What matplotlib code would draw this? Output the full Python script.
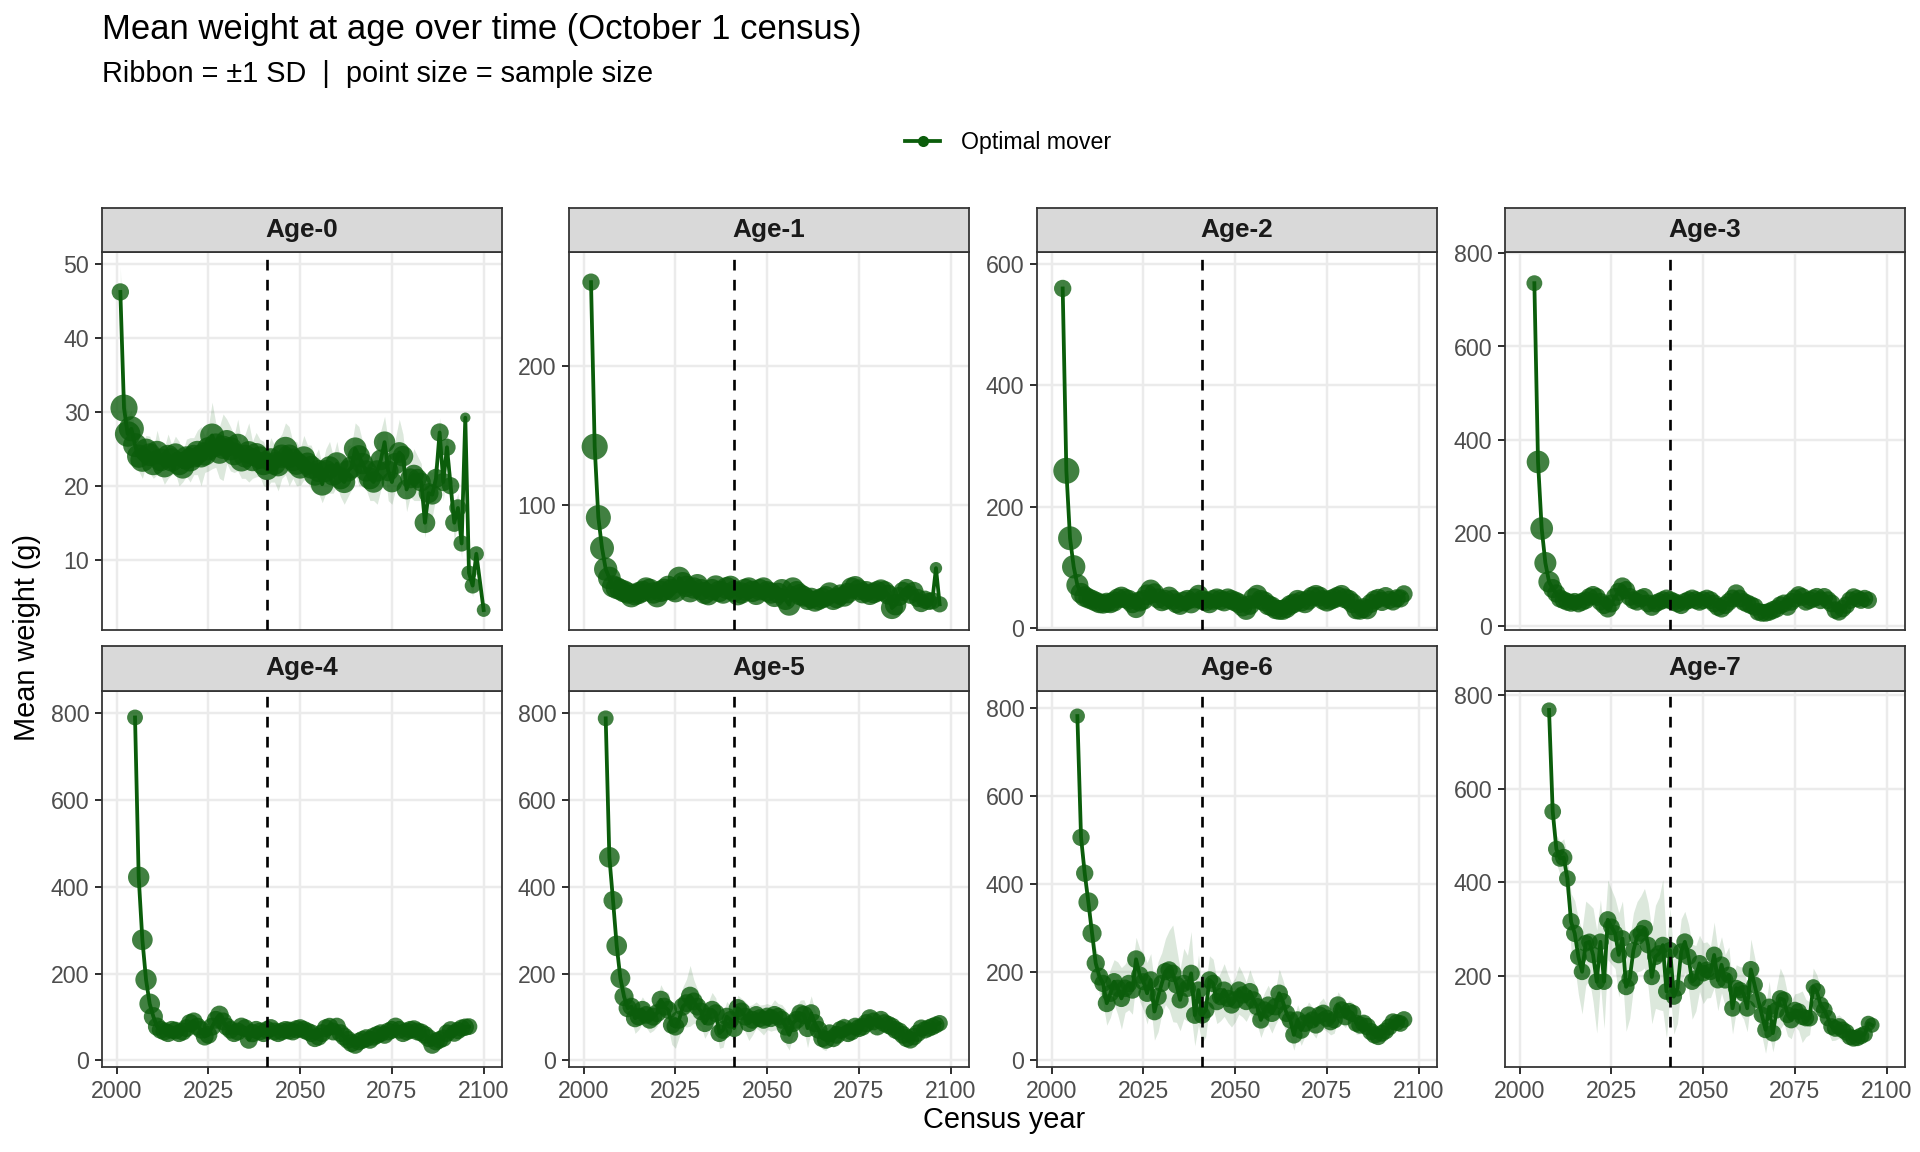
import matplotlib.pyplot as plt
from matplotlib.lines import Line2D
import numpy as np

plt.rcParams['font.family'] = ['Liberation Sans', 'DejaVu Sans']

# ---- data ----
ages = ["Age-0", "Age-1", "Age-2", "Age-3", "Age-4", "Age-5", "Age-6", "Age-7"]

yr0 = list(range(2001, 2099)) + [2100]
w0 = [46.2, 30.5, 27.0, 27.7, 25.5, 24.0, 23.5, 24.8, 24.2, 23.0,
      24.5, 23.5, 22.7, 24.0, 23.5, 24.2, 23.0, 22.5, 23.8, 23.5,
      24.0, 24.5, 24.0, 24.3, 25.0, 26.8, 25.5, 24.5, 25.2, 26.0,
      25.0, 24.3, 25.5, 23.5, 24.0, 24.5, 23.5, 24.2, 23.8, 23.0,
      22.3, 23.5, 23.0, 22.8, 24.0, 25.0, 24.0, 23.5, 23.0, 22.5,
      23.8, 23.0, 22.5, 21.5, 22.0, 20.2, 22.0, 22.5, 21.5, 23.0,
      21.0, 20.5, 22.0, 22.5, 25.0, 24.0, 23.0, 22.0, 21.0, 20.5,
      22.0, 23.5, 25.9, 22.0, 20.5, 23.0, 24.5, 24.0, 19.5, 21.0,
      21.5, 21.0, 20.5, 15.0, 19.0, 18.8, 21.0, 27.2, 20.5, 25.2,
      20.0, 15.0, 17.0, 12.2, 29.2, 8.2, 6.5, 10.8, 3.2]
sd0 = [3.5, 3.0, 2.5, 2.5, 2.0, 2.0, 2.5, 2.0, 2.5, 2.0,
       3.0, 2.0, 2.5, 3.0, 2.0, 2.5, 3.0, 2.0, 2.5, 3.0,
       2.5, 3.0, 4.0, 2.5, 3.0, 4.5, 3.0, 3.5, 4.5, 3.0,
       3.0, 2.5, 3.5, 2.5, 3.0, 4.0, 2.5, 3.0, 2.5, 3.0,
       2.5, 3.0, 2.5, 3.5, 3.0, 3.5, 4.0, 2.5, 3.0, 2.5,
       3.0, 2.5, 3.0, 2.5, 3.0, 2.5, 3.0, 3.5, 2.5, 3.0,
       2.5, 3.0, 3.5, 3.0, 3.5, 4.0, 3.0, 2.5, 3.0, 2.5,
       4.5, 4.0, 3.5, 4.0, 3.0, 3.5, 4.5, 3.0, 3.0, 2.5,
       3.5, 3.0, 2.5, 2.0, 3.0, 3.0, 2.5, 2.0, 2.5, 2.5,
       2.0, 2.5, 2.0, 2.0, 0.5, 1.0, 1.5, 1.0, 0.5]
n0 = [250, 1000, 850, 800, 700, 650, 700, 650, 600, 650,
      650, 600, 650, 600, 650, 600, 650, 600, 600, 650,
      600, 650, 600, 650, 650, 700, 650, 600, 650, 600,
      650, 600, 600, 650, 600, 600, 600, 650, 600, 650,
      600, 650, 600, 600, 650, 700, 650, 600, 600, 600,
      600, 550, 600, 550, 550, 600, 550, 550, 550, 600,
      550, 550, 500, 550, 600, 550, 500, 500, 550, 500,
      500, 450, 500, 450, 450, 500, 450, 450, 400, 400,
      400, 350, 350, 450, 400, 400, 350, 300, 300, 250,
      250, 300, 250, 200, 20, 150, 180, 150, 100]

yr1 = list(range(2002, 2098))
w1 = [260.3, 141.9, 90.9, 68.9, 53.8, 47.4, 41.4, 40.2, 39.0, 37.8,
      36.6, 34.2, 35.4, 36.6, 37.8, 40.2, 39.0, 36.6, 34.2, 37.8,
      39.0, 41.4, 39.0, 37.8, 47.4, 43.8, 41.4, 37.8, 40.2, 42.6,
      39.0, 36.6, 35.4, 39.0, 41.4, 37.8, 36.6, 40.2, 41.4, 37.8,
      35.4, 36.6, 39.0, 40.2, 37.8, 35.4, 39.0, 40.2, 37.8, 36.6,
      34.2, 36.6, 39.0, 31.8, 28.2, 40.2, 37.8, 35.4, 34.2, 31.8,
      33.0, 30.6, 31.8, 33.0, 34.2, 36.6, 31.8, 33.0, 35.4, 34.2,
      36.6, 40.2, 41.4, 39.0, 36.6, 37.8, 35.4, 36.6, 37.8, 39.0,
      37.8, 35.4, 25.8, 28.2, 34.2, 37.8, 40.2, 35.4, 37.8, 33.0,
      29.4, 31.8, 30.6, 31.0, 54.5, 28.5]
sd1 = [9.5, 6.0, 5.0, 4.5, 4.0, 3.5, 3.5, 3.0, 3.5, 3.0,
       3.0, 3.5, 3.0, 3.5, 3.0, 3.5, 3.0, 3.5, 3.0, 3.5,
       3.5, 4.0, 3.5, 3.0, 4.5, 4.0, 3.5, 3.0, 3.5, 4.0,
       3.5, 3.0, 3.0, 3.5, 4.0, 3.5, 3.0, 3.5, 4.0, 3.5,
       3.0, 3.0, 3.5, 3.5, 3.0, 3.0, 3.5, 3.5, 3.0, 3.0,
       3.0, 3.0, 3.5, 3.0, 3.5, 3.5, 3.0, 3.0, 3.0, 3.0,
       3.0, 3.0, 3.0, 3.0, 3.0, 3.5, 3.0, 3.0, 3.0, 3.0,
       3.0, 3.5, 3.5, 3.5, 3.0, 3.0, 3.0, 3.0, 3.0, 3.5,
       3.0, 3.0, 3.5, 3.5, 3.0, 3.5, 3.5, 3.0, 3.5, 3.0,
       3.0, 3.0, 3.0, 3.0, 1.0, 3.0]
n1 = [250, 900, 800, 700, 650, 600, 550, 550, 500, 550,
      500, 550, 500, 550, 500, 500, 550, 500, 550, 500,
      550, 500, 500, 550, 600, 550, 500, 550, 500, 500,
      500, 550, 500, 500, 550, 500, 500, 550, 500, 500,
      500, 500, 550, 500, 500, 450, 500, 500, 450, 500,
      500, 450, 500, 450, 550, 500, 450, 500, 450, 450,
      450, 450, 450, 450, 450, 500, 450, 450, 450, 450,
      450, 500, 450, 450, 450, 450, 450, 450, 450, 450,
      450, 400, 550, 500, 350, 350, 300, 300, 350, 300,
      300, 300, 250, 250, 60, 200]

yr2 = list(range(2003, 2097))
w2 = [559, 259, 148, 101, 71, 57.5, 52, 49, 46.6, 43.8,
      41, 40, 42, 41, 44, 49, 52, 49, 46.6, 41,
      33, 44, 46.6, 55, 63, 57.5, 49, 44, 46.6, 52,
      46.6, 41, 38, 44, 46.6, 41, 49, 55, 46.6, 44,
      41, 46.6, 49, 46.6, 44, 49, 46.6, 44, 41, 35.6,
      30, 38, 49, 55, 46.6, 44, 38, 35.6, 31, 30,
      30, 33, 38, 41, 46.6, 44, 41, 46.6, 52, 55,
      52, 46.6, 44, 46.6, 49, 52, 55, 49, 46.6, 41,
      31, 30, 33, 31, 41, 46.6, 49, 44, 52, 46.6,
      44, 49, 49, 56.4]
sd2 = [25, 12, 8, 7, 6, 5, 5, 5, 5, 5,
       5, 5, 5, 5, 5, 6, 6, 5, 5, 5,
       5, 5, 6, 7, 8, 6, 5, 5, 5, 6,
       5, 5, 5, 5, 5, 5, 5, 6, 5, 5,
       5, 5, 5, 5, 5, 5, 5, 5, 5, 5,
       5, 5, 6, 6, 5, 5, 5, 5, 5, 5,
       5, 5, 5, 5, 5, 5, 5, 5, 6, 6,
       5, 5, 5, 5, 5, 6, 6, 5, 5, 5,
       5, 5, 5, 5, 5, 5, 5, 5, 6, 5,
       5, 5, 5, 4]
n2 = [250, 900, 700, 650, 550, 450, 450, 420, 400, 400,
      400, 380, 400, 400, 420, 400, 400, 380, 400, 400,
      400, 420, 400, 450, 450, 400, 400, 380, 400, 400,
      400, 400, 380, 400, 400, 420, 400, 400, 400, 380,
      400, 400, 400, 420, 400, 400, 380, 400, 400, 400,
      400, 380, 450, 400, 400, 400, 420, 400, 380, 400,
      400, 400, 400, 380, 400, 420, 400, 400, 400, 380,
      400, 400, 420, 400, 400, 400, 380, 400, 400, 400,
      400, 380, 400, 400, 350, 350, 350, 350, 350, 300,
      300, 300, 300, 250]

yr3 = list(range(2004, 2096))
w3 = [736, 352, 209, 135, 94.5, 80, 69.5, 58.7, 55, 51.6,
      49.4, 51.6, 48, 51.6, 55, 62, 66, 62, 51.6, 44.4,
      37, 48, 62, 73, 84, 76.6, 62, 55, 51.6, 58.7,
      62, 48, 40.8, 48, 51.6, 55, 58.7, 55, 51.6, 48,
      44.4, 51.6, 55, 58.7, 55, 51.6, 55, 58.7, 55, 48,
      40.8, 37, 44.4, 51.6, 58.7, 69.5, 58.7, 51.6, 48, 44.4,
      40.8, 30, 28, 28, 30, 33.7, 37, 44.4, 48, 40.8,
      51.6, 58.7, 66, 62, 51.6, 55, 58.7, 62, 55, 62,
      55, 48, 33.7, 30, 37, 44.4, 55, 62, 58.7, 55,
      58.7, 55]
sd3 = [30, 15, 12, 10, 8, 8, 7, 7, 7, 7,
       7, 7, 7, 7, 7, 8, 8, 7, 7, 7,
       7, 7, 8, 9, 10, 9, 8, 7, 7, 7,
       8, 7, 7, 7, 7, 7, 7, 7, 7, 7,
       7, 7, 7, 7, 7, 7, 7, 7, 7, 7,
       7, 7, 7, 7, 7, 9, 8, 7, 7, 7,
       7, 6, 6, 6, 6, 6, 6, 7, 7, 7,
       7, 7, 8, 8, 7, 7, 7, 7, 7, 7,
       7, 7, 6, 6, 6, 7, 7, 7, 7, 7,
       7, 7]
n3 = [180, 600, 600, 550, 500, 350, 300, 300, 280, 280,
      280, 270, 280, 290, 280, 280, 300, 280, 270, 280,
      280, 290, 300, 300, 320, 300, 280, 280, 270, 280,
      280, 280, 290, 280, 270, 280, 280, 290, 280, 280,
      280, 270, 280, 280, 290, 280, 280, 270, 280, 280,
      290, 280, 280, 270, 280, 300, 280, 280, 290, 280,
      280, 270, 280, 280, 280, 290, 280, 270, 280, 280,
      280, 290, 280, 280, 270, 280, 280, 290, 280, 280,
      280, 280, 260, 260, 260, 260, 260, 250, 250, 250,
      250, 250]

yr4 = list(range(2005, 2097))
w4 = [790, 422, 278, 186, 130.5, 101, 78, 70.6, 66.8, 63,
      70.6, 69, 63, 66.8, 74.5, 86, 90, 78, 70.6, 55,
      59, 78, 93.7, 105, 90, 78, 70.6, 63, 66.8, 78,
      74.5, 47.6, 63, 70.6, 66.8, 63, 70.6, 74.5, 66.8, 63,
      66.8, 70.6, 69, 66.8, 72, 74.5, 70.6, 66.8, 63, 51.4,
      55, 63, 74.5, 78, 66.8, 78, 63, 55, 47.6, 40,
      36, 43.8, 47.6, 51.4, 47.6, 55, 59, 63, 59, 66.8,
      70.6, 78, 70.6, 63, 66.8, 70.6, 72, 66.8, 64.5, 59,
      51.4, 36, 43.8, 47.6, 51.4, 63, 70.6, 63, 69, 74.5,
      76.8, 78]
sd4 = [10, 15, 12, 10, 10, 9, 8, 8, 8, 8,
       8, 8, 8, 8, 9, 10, 10, 9, 8, 8,
       8, 9, 12, 16, 12, 10, 9, 8, 8, 9,
       9, 8, 8, 8, 8, 8, 8, 9, 8, 8,
       8, 8, 8, 8, 8, 8, 8, 8, 8, 8,
       8, 8, 9, 14, 10, 8, 8, 8, 8, 8,
       7, 7, 7, 7, 7, 7, 7, 7, 7, 8,
       8, 9, 8, 8, 8, 8, 8, 8, 8, 8,
       7, 7, 7, 7, 7, 8, 8, 8, 8, 8,
       8, 7]
n4 = [180, 500, 450, 500, 450, 350, 300, 280, 280, 280,
      280, 270, 280, 290, 280, 300, 280, 280, 270, 280,
      280, 290, 280, 320, 280, 280, 270, 280, 280, 290,
      280, 280, 300, 280, 270, 280, 280, 290, 280, 280,
      280, 270, 280, 280, 290, 280, 280, 270, 280, 280,
      290, 280, 280, 270, 280, 280, 280, 290, 280, 280,
      280, 270, 280, 280, 280, 290, 280, 270, 280, 280,
      280, 290, 280, 280, 270, 280, 280, 290, 280, 280,
      280, 280, 280, 260, 260, 260, 250, 250, 250, 250,
      250, 220]

yr5 = list(range(2006, 2098))
w5 = [788, 468, 368.5, 264, 189.6, 147, 120.5, 124, 97.5, 101,
      116.7, 105, 93.7, 101, 109, 139.7, 124, 116.7, 82, 78,
      93.7, 124, 132, 149, 136, 124, 113, 86, 101, 116.7,
      109, 63, 70.6, 101, 93.7, 74.5, 120.5, 113, 101, 86,
      93.7, 105, 97.5, 93.7, 101, 97.5, 105, 101, 93.7, 78,
      59, 86, 93.7, 109, 105, 74.5, 109, 86, 70.6, 51.4,
      47.6, 63, 51.4, 59, 70.6, 74.5, 63, 66.8, 78, 74.5,
      78, 86, 97.5, 90, 78, 93.7, 86, 82, 78, 70.6,
      66.8, 59, 51.4, 47.6, 55, 63, 74.5, 70.6, 74.5, 78,
      82, 86]
sd5 = [10, 15, 12, 12, 15, 20, 25, 30, 35, 30,
       30, 28, 30, 32, 30, 35, 35, 40, 45, 50,
       40, 45, 55, 70, 50, 40, 35, 35, 35, 40,
       35, 35, 40, 35, 30, 40, 30, 30, 35, 40,
       35, 30, 30, 35, 30, 30, 35, 30, 35, 40,
       35, 30, 30, 30, 35, 45, 40, 30, 30, 25,
       25, 20, 22, 20, 25, 25, 20, 20, 20, 20,
       20, 25, 22, 20, 20, 20, 20, 20, 20, 20,
       15, 15, 15, 15, 15, 15, 15, 12, 12, 12,
       10, 10]
n5 = [180, 450, 350, 450, 400, 350, 300, 280, 300, 280,
      280, 270, 280, 290, 280, 300, 280, 280, 270, 280,
      280, 290, 280, 300, 280, 280, 270, 280, 280, 290,
      280, 280, 290, 280, 270, 280, 300, 280, 280, 280,
      280, 270, 280, 280, 290, 280, 280, 270, 280, 280,
      290, 280, 280, 270, 300, 280, 280, 290, 280, 280,
      280, 270, 280, 280, 280, 290, 280, 270, 280, 280,
      280, 290, 280, 280, 270, 280, 280, 290, 280, 280,
      280, 280, 280, 260, 260, 260, 250, 250, 250, 250,
      230, 200]

yr6 = list(range(2007, 2097))
w6 = [782, 506, 424.6, 358.6, 288, 220, 189.5, 174, 129, 151.6,
      178, 163, 140, 163, 174, 159, 229, 193, 178, 151.6,
      182, 110, 144, 174, 201, 204.7, 197, 170.6, 136.5, 174,
      163, 197, 102, 159, 102, 113.7, 182, 174, 132.7, 144,
      159, 140, 125, 136.5, 159, 147.8, 132.7, 155.4, 136.5, 121,
      91, 113.7, 125, 106, 121, 151.6, 132.7, 106, 91, 57,
      91, 68, 83.4, 102, 91, 79.6, 102, 106, 94.8, 87,
      91, 125, 113.7, 98.6, 110, 106, 83.4, 79.6, 83.4, 75.8,
      64.4, 57, 53, 60.7, 66, 75, 87, 85, 83, 92]
sd6 = [10, 20, 25, 25, 30, 35, 40, 45, 50, 55,
       50, 60, 70, 55, 60, 55, 50, 60, 65, 70,
       60, 65, 80, 70, 75, 90, 110, 85, 70, 80,
       75, 95, 70, 80, 65, 60, 55, 55, 50, 55,
       60, 55, 50, 50, 55, 50, 45, 50, 45, 40,
       40, 40, 45, 45, 40, 55, 50, 45, 40, 35,
       35, 35, 30, 30, 30, 30, 30, 35, 30, 30,
       30, 30, 30, 25, 25, 25, 25, 20, 20, 20,
       20, 15, 15, 15, 15, 15, 15, 12, 12, 10]
n6 = [150, 250, 250, 400, 350, 300, 280, 250, 280, 250,
      250, 240, 250, 260, 250, 250, 280, 250, 240, 250,
      250, 260, 250, 240, 250, 250, 260, 250, 240, 250,
      250, 250, 260, 250, 240, 250, 250, 260, 250, 250,
      240, 250, 250, 260, 250, 250, 240, 250, 250, 260,
      250, 250, 240, 250, 250, 260, 250, 250, 240, 250,
      250, 260, 250, 250, 240, 250, 250, 260, 250, 250,
      240, 250, 250, 260, 250, 250, 240, 250, 250, 260,
      250, 250, 230, 230, 230, 230, 220, 220, 220, 220]

yr7 = list(range(2008, 2097))
w7 = [768, 551, 471, 451, 453, 408, 316, 291, 241, 209,
      270, 273, 245, 188, 273, 188, 320, 305, 291, 245,
      280, 177, 195, 255, 284, 291, 302, 266, 198, 241,
      248, 266, 167, 255, 156, 174, 252, 273, 241, 188,
      195, 227, 206, 213, 209, 245, 191, 224, 191, 202,
      131, 174, 170, 163, 131, 214, 181, 149, 117, 85,
      134, 78, 127, 152, 149, 117, 106, 127, 124, 113,
      110, 110, 177, 167, 138, 127, 110, 92, 88, 92,
      85, 80, 70, 67, 68, 72, 76, 99, 95]
sd7 = [10, 25, 30, 35, 40, 50, 60, 70, 80, 90,
       90, 80, 100, 110, 90, 100, 85, 80, 75, 90,
       80, 95, 85, 80, 75, 80, 85, 90, 100, 110,
       120, 140, 100, 90, 80, 75, 70, 65, 70, 80,
       70, 60, 65, 60, 55, 70, 65, 60, 55, 60,
       55, 50, 50, 55, 50, 65, 60, 50, 45, 50,
       55, 40, 50, 65, 50, 45, 40, 35, 40, 55,
       40, 35, 40, 35, 35, 30, 30, 30, 25, 25,
       25, 20, 20, 15, 15, 15, 15, 10, 10]
n7 = [150, 220, 220, 220, 250, 220, 250, 250, 220, 220,
      220, 210, 220, 230, 220, 220, 250, 220, 210, 220,
      220, 230, 220, 210, 220, 220, 230, 220, 210, 220,
      220, 220, 230, 220, 210, 220, 220, 230, 220, 220,
      210, 220, 220, 230, 220, 220, 210, 220, 220, 230,
      220, 220, 210, 220, 220, 230, 220, 220, 210, 220,
      220, 230, 220, 220, 210, 220, 220, 230, 220, 220,
      210, 220, 150, 220, 220, 220, 210, 220, 220, 230,
      220, 220, 210, 220, 220, 220, 210, 150, 150]

years = [yr0, yr1, yr2, yr3, yr4, yr5, yr6, yr7]
means = [w0, w1, w2, w3, w4, w5, w6, w7]
sds = [sd0, sd1, sd2, sd3, sd4, sd5, sd6, sd7]
counts = [n0, n1, n2, n3, n4, n5, n6, n7]

ylims = [(0.5, 51.6), (10, 282), (-3, 619), (-9, 803),
         (-15, 851), (-15, 851), (-16, 839), (5.7, 808.5)]
yticks = [[10, 20, 30, 40, 50], [100, 200], [0, 200, 400, 600],
          [0, 200, 400, 600, 800], [0, 200, 400, 600, 800],
          [0, 200, 400, 600, 800], [0, 200, 400, 600, 800],
          [200, 400, 600, 800]]
xticks = [2000, 2025, 2050, 2075, 2100]
change_year = 2041

green = "#0b5d0b"
W, H = 1920, 1152

fig = plt.figure(figsize=(12, 7.2), dpi=160)

lefts = [102, 569, 1037, 1505]
rows = [(630, 252, 208), (1067, 691, 646)]   # panel bottom, panel top, strip top (px)

for i, age in enumerate(ages):
    r, c = divmod(i, 4)
    bot, top, stop = rows[r]
    x0 = lefts[c] / W
    ax = fig.add_axes([x0, 1 - bot / H, 400 / W, (bot - top) / H])
    sax = fig.add_axes([x0, 1 - top / H, 400 / W, (top - stop) / H])

    yr = np.array(years[i])
    m = np.array(means[i], dtype=float)
    sd = np.array(sds[i], dtype=float)
    n = np.array(counts[i], dtype=float)
    d = 3.4 + 8.8 * np.sqrt(n / 1000)

    ax.fill_between(yr, m - sd, m + sd, color=green, alpha=0.14, lw=0, zorder=2)
    ax.plot(yr, m, color=green, lw=1.7, zorder=3)
    ax.scatter(yr, m, s=d ** 2, color=green, alpha=0.78, linewidths=0, zorder=4)
    ax.axvline(change_year, color="black", lw=1.2, ls=(0, (4, 3.5)), zorder=5)

    ax.set_xlim(1996, 2105)
    ax.set_ylim(*ylims[i])
    ax.set_xticks(xticks)
    ax.set_yticks(yticks[i])
    ax.grid(True, color="#EBEBEB", lw=1.1)
    ax.set_axisbelow(True)
    for sp in ax.spines.values():
        sp.set_color("#333333")
        sp.set_linewidth(0.8)
    ax.tick_params(axis="both", colors="#333333", labelcolor="#4D4D4D",
                   labelsize=10.4, length=3.2, width=0.9, pad=2.5)
    if r == 0:
        ax.tick_params(axis="x", length=0, labelbottom=False)

    sax.set_facecolor("#D9D9D9")
    sax.set_xticks([])
    sax.set_yticks([])
    for sp in sax.spines.values():
        sp.set_color("#333333")
        sp.set_linewidth(0.8)
    sax.text(0.5, 0.5, age, ha="center", va="center", fontsize=11.8,
             fontweight="bold", color="#1A1A1A", transform=sax.transAxes)

fig.text(102 / W, 1 - 39 / H, "Mean weight at age over time (October 1 census)",
         fontsize=15.6, va="baseline")
fig.text(102 / W, 1 - 82 / H, "Ribbon = \u00b11 SD  |  point size = sample size",
         fontsize=13, va="baseline")
fig.text(0.014, 0.447, "Mean weight (g)", rotation=90, ha="center", va="center", fontsize=13)
fig.text(0.5227, 0.028, "Census year", ha="center", va="center", fontsize=13)

handle = Line2D([0], [0], color=green, lw=1.7, marker="o", markersize=5,
                markerfacecolor=green, markeredgewidth=0)
fig.legend([handle], ["Optimal mover"], loc="center", bbox_to_anchor=(0.525, 1 - 143 / H),
           frameon=False, fontsize=10.4, handlelength=1.5, handletextpad=0.9)

fig.savefig("out.png", dpi=160)
